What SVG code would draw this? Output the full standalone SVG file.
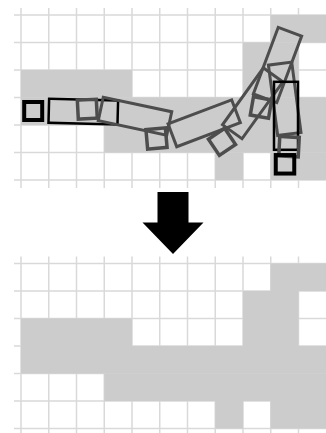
<svg xmlns="http://www.w3.org/2000/svg" xmlns:xlink="http://www.w3.org/1999/xlink" width="326" height="433" viewBox="0 0 326 433">
<style>
.gl{stroke:#d9d9d9;stroke-width:1.5;fill:none}
.cell{fill:#cccccc;stroke:none}
.grect{fill:none;stroke:#4d4d4d;stroke-width:3}
.gsq{fill:none;stroke:#4d4d4d;stroke-width:3.5}
.brect{fill:none;stroke:#000;stroke-width:2.5}
.bsq{fill:none;stroke:#000;stroke-width:4}
</style>
<defs>
<g id="cells">
<rect class="cell" x="270.75" y="15" width="56" height="27.5"/>
<rect class="cell" x="243" y="42.5" width="55.5" height="55"/>
<rect class="cell" x="21" y="70" width="111" height="27.5"/>
<rect class="cell" x="21" y="97.5" width="306" height="27.5"/>
<rect class="cell" x="104.25" y="125" width="222" height="27.5"/>
<rect class="cell" x="215.25" y="152.5" width="27.75" height="27.5"/>
<rect class="cell" x="270.75" y="152.5" width="56" height="27.5"/>
</g>
<g id="hlines" class="gl">
<line x1="14" y1="15" x2="326" y2="15"/>
<line x1="14" y1="42.5" x2="326" y2="42.5"/>
<line x1="14" y1="70" x2="326" y2="70"/>
<line x1="14" y1="97.5" x2="326" y2="97.5"/>
<line x1="14" y1="125" x2="326" y2="125"/>
<line x1="14" y1="152.5" x2="326" y2="152.5"/>
<line x1="14" y1="180" x2="326" y2="180"/>
</g>
<g id="vlines" class="gl">
<line x1="21" y1="8" x2="21" y2="188"/>
<line x1="48.75" y1="8" x2="48.75" y2="188"/>
<line x1="76.5" y1="8" x2="76.5" y2="188"/>
<line x1="104.25" y1="8" x2="104.25" y2="188"/>
<line x1="132" y1="8" x2="132" y2="188"/>
<line x1="159.75" y1="8" x2="159.75" y2="188"/>
<line x1="187.5" y1="8" x2="187.5" y2="188"/>
<line x1="215.25" y1="8" x2="215.25" y2="188"/>
<line x1="243" y1="8" x2="243" y2="188"/>
<line x1="270.75" y1="8" x2="270.75" y2="188"/>
<line x1="298.5" y1="8" x2="298.5" y2="188"/>
</g>
</defs>
<rect width="326" height="433" fill="#fff"/>
<g id="top-grid">
<use xlink:href="#hlines"/>
<use xlink:href="#vlines"/>
<use xlink:href="#cells"/>
</g>
<g id="bottom-grid" transform="translate(0,248.5)">
<use xlink:href="#hlines"/>
<use xlink:href="#vlines"/>
<use xlink:href="#cells"/>
</g>
<g id="poses">
<rect class="bsq" x="-9" y="-9" width="18" height="18" transform="translate(33.2,111)"/>
<rect class="brect" x="-34.5" y="-12" width="69" height="24" transform="translate(83.3,111.6) rotate(1.5)"/>
<rect class="gsq" x="-9.5" y="-9.5" width="19" height="19" transform="translate(87.3,109.2) rotate(-3)"/>
<rect class="grect" x="-35" y="-12" width="70" height="24" transform="translate(135,116.2) rotate(12)"/>
<rect class="gsq" x="-9.75" y="-9.75" width="19.5" height="19.5" transform="translate(156.5,138.5) rotate(-5)"/>
<rect class="grect" x="-34" y="-12.25" width="68" height="24.5" transform="translate(204.2,123.3) rotate(-20.7)"/>
<rect class="gsq" x="-9.75" y="-9.75" width="19.5" height="19.5" transform="translate(222,141.8) rotate(-34)"/>
<rect class="grect" x="-12" y="-35" width="24" height="70" transform="translate(252.7,103.3) rotate(35.7)"/>
<rect class="grect" x="-12.5" y="-35.5" width="25" height="71" transform="translate(277.5,65) rotate(20.5)"/>
<rect class="gsq" x="-9.25" y="-9.25" width="18.5" height="18.5" transform="translate(261,107.5) rotate(10)"/>
<rect class="grect" x="-11.75" y="-35.5" width="23.5" height="71" transform="translate(284.7,98.8) rotate(-7.5)"/>
<rect class="brect" x="-12" y="-34" width="24" height="68" transform="translate(286,115.8)"/>
<rect class="gsq" x="-9.75" y="-9.75" width="19.5" height="19.5" transform="translate(289,146.7) rotate(3)"/>
<rect class="bsq" x="-9.25" y="-9.25" width="18.5" height="18.5" transform="translate(285,164.3)"/>
</g>
<g id="arrow">
<polygon points="157.5,192 188.5,192 188.5,222.5 203.5,222.5 173,254 142.5,222.5 157.5,222.5" fill="#000"/>
</g>
</svg>
